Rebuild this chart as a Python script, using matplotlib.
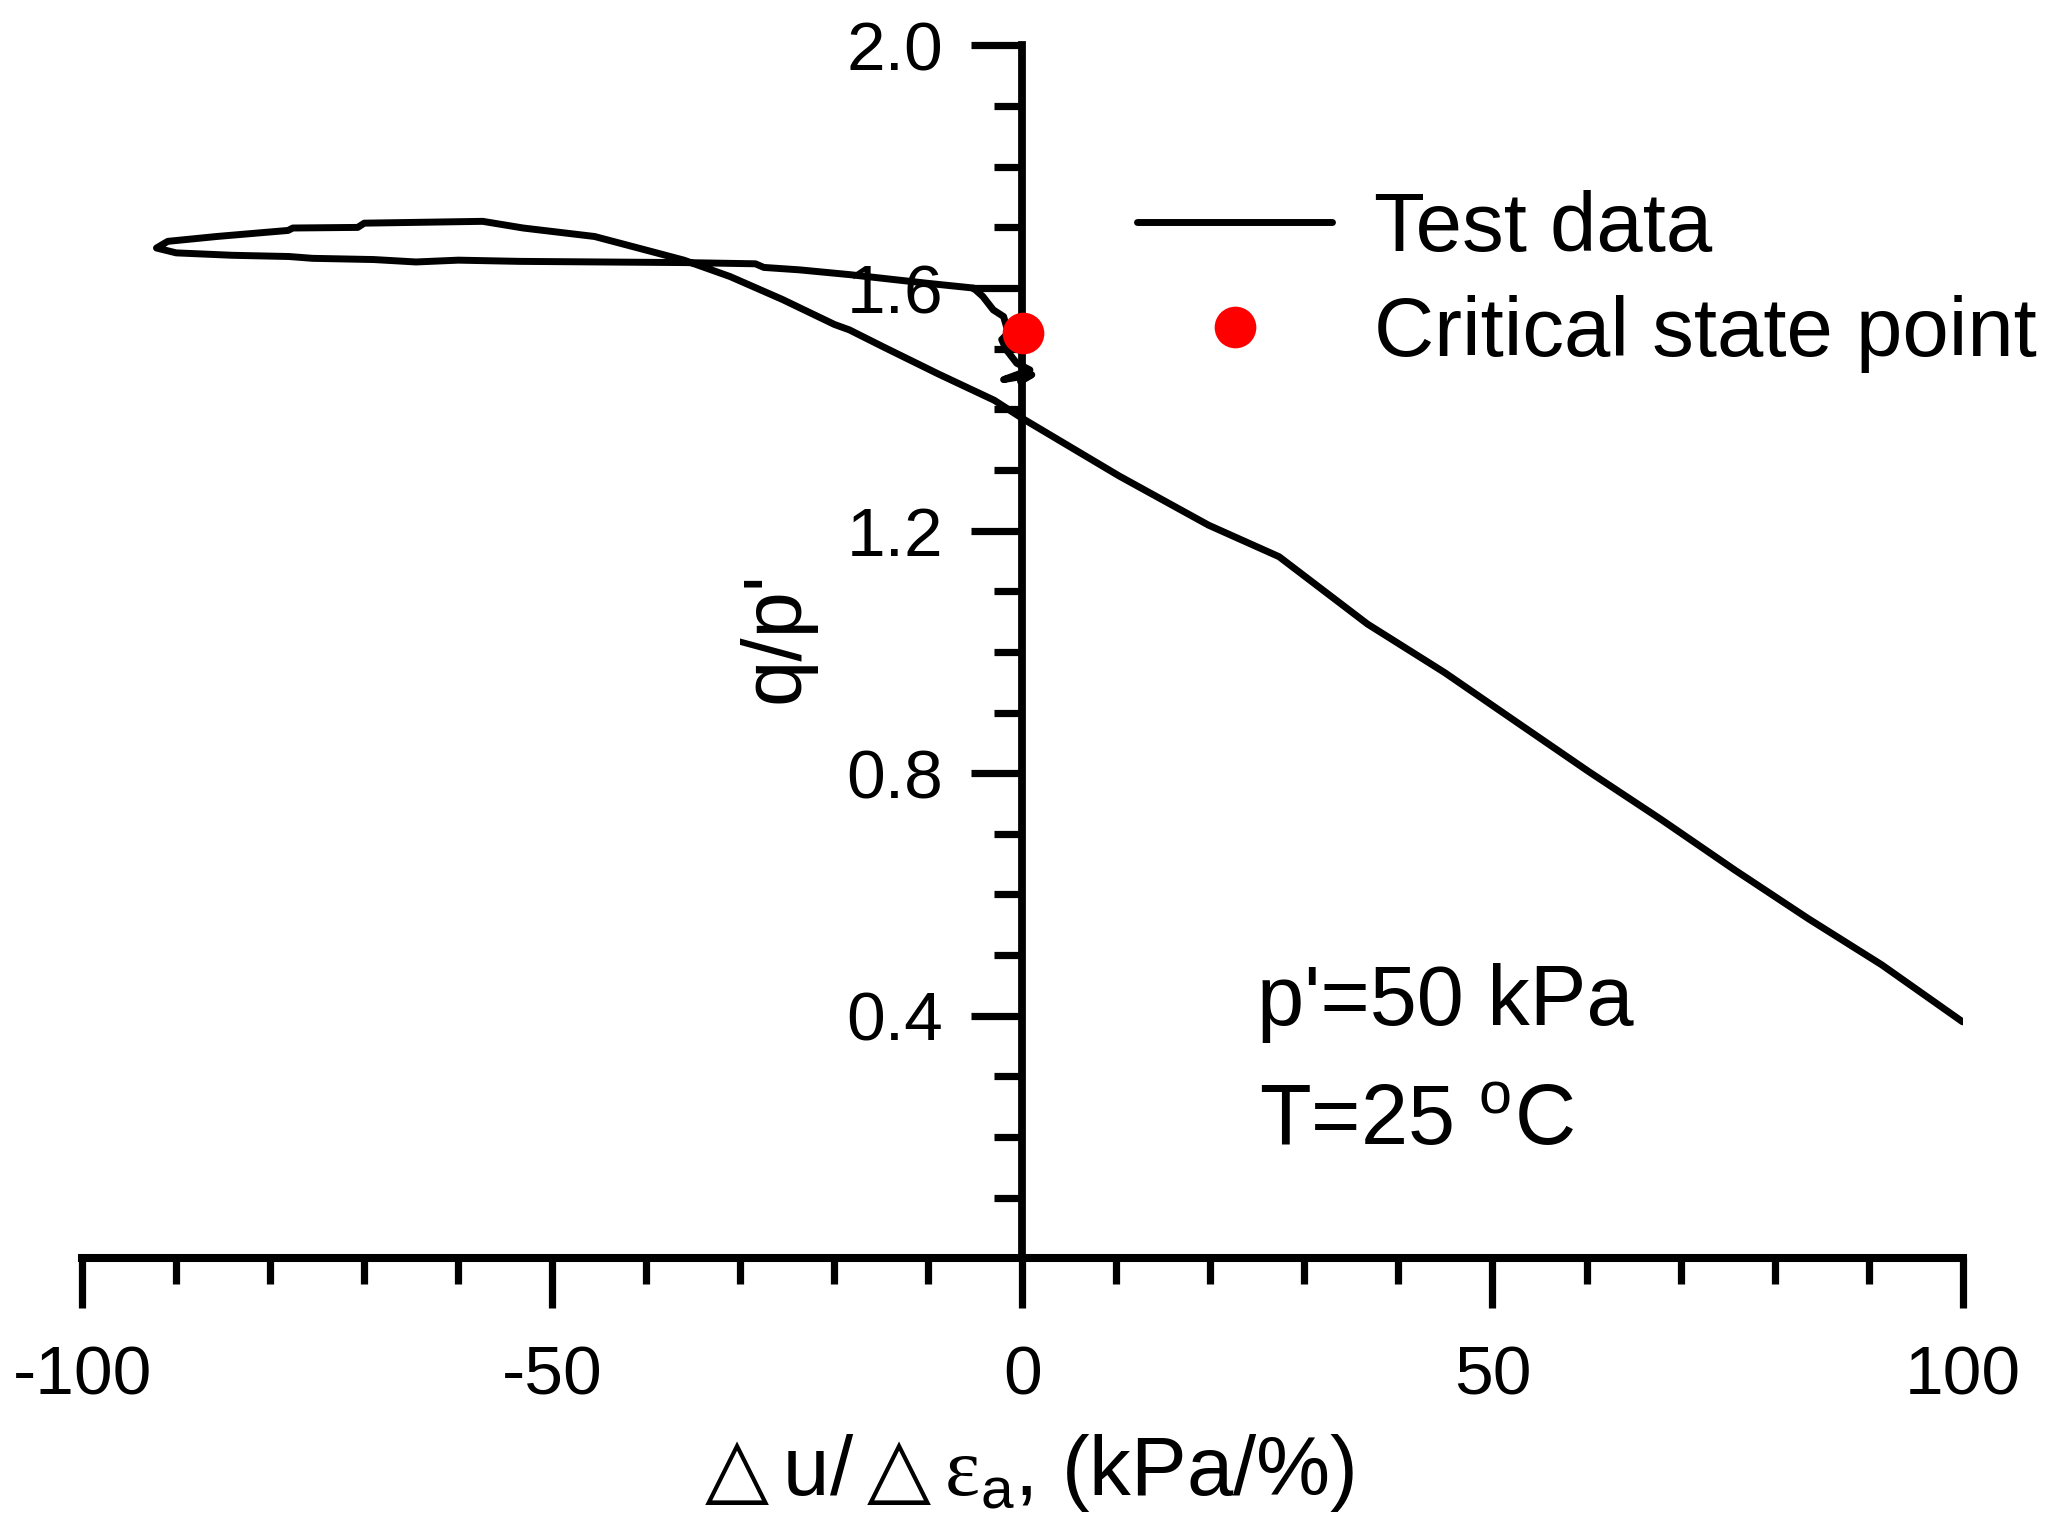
import matplotlib
matplotlib.use('Agg')
import matplotlib.pyplot as plt
from matplotlib.ticker import FixedLocator, FixedFormatter

# ---- data ----
# test path: starts at large positive du/dea, climbs left, loops, returns to ~0
x_data = [100.0, 91.4, 83.6, 75.8, 68.0, 60.2, 52.4, 44.9, 36.7, 27.3, 19.8, 10.3, 0.0,
          -3.0, -8.9, -14.8, -18.4, -20.0, -25.5, -31.1, -36.0, -39.4, -45.5,
          -53.1, -57.4, -70.0, -70.7, -77.6, -78.1, -85.7, -90.9, -92.1,
          -90.0, -84.0, -78.0, -75.5, -69.0, -64.5, -60.0, -53.5, -45.0, -36.0,
          -28.4, -27.5, -23.7, -18.3, -10.2, -5.2, -4.2, -3.1, -2.0, -1.5, -2.2,
          -1.7, -0.6, 0.8, -2.0, 1.0, -0.2]
y_data = [0.39, 0.484, 0.560, 0.640, 0.723, 0.803, 0.886, 0.966, 1.046, 1.157, 1.209, 1.290, 1.385,
          1.415, 1.458, 1.503, 1.531, 1.540, 1.581, 1.619, 1.646, 1.660, 1.685,
          1.699, 1.710, 1.707, 1.700, 1.699, 1.695, 1.685, 1.677, 1.666,
          1.658, 1.654, 1.652, 1.649, 1.647, 1.643, 1.646, 1.644, 1.643, 1.642,
          1.640, 1.634, 1.630, 1.622, 1.608, 1.600, 1.586, 1.564, 1.553, 1.526, 1.515,
          1.498, 1.476, 1.465, 1.449, 1.457, 1.446]
cs_x = [0.1]
cs_y = [1.526]

x_major = [-100, -50, 0, 50, 100]
x_major_labels = ['-100', '-50', '0', '50', '100']
x_minor = [-90, -80, -70, -60, -40, -30, -20, -10, 10, 20, 30, 40, 60, 70, 80, 90]
y_major = [0.4, 0.8, 1.2, 1.6, 2.0]
y_major_labels = ['0.4', '0.8', '1.2', '1.6', '2.0']
y_minor = [0.1, 0.2, 0.3, 0.5, 0.6, 0.7, 0.9, 1.0, 1.1, 1.3, 1.4, 1.5, 1.7, 1.8, 1.9]

series_labels = ['Test data', 'Critical state point']
note_lines = ["p'=50 kPa", r"T=25 $^{\mathrm{o}}$C"]
x_label = r"$\mathsf{\triangle}\mathrm{u/}\mathsf{\triangle}\mathtt{\varepsilon}_{\mathrm{a}}$, (kPa/%)"
y_label = "q/p'"

# ---- style ----
plt.rcParams['font.family'] = ['Liberation Sans', 'DejaVu Sans']
plt.rcParams['mathtext.fontset'] = 'custom'
plt.rcParams['mathtext.rm'] = 'Liberation Sans'
plt.rcParams['mathtext.it'] = 'Liberation Sans:italic'
plt.rcParams['mathtext.bf'] = 'Liberation Sans:bold'
plt.rcParams['mathtext.sf'] = 'DejaVu Sans'
plt.rcParams['mathtext.tt'] = 'Liberation Serif'
plt.rcParams['mathtext.fallback'] = 'stixsans'
plt.rcParams['axes.unicode_minus'] = False

fig = plt.figure(figsize=(20.45, 15.26), dpi=100)
ax = fig.add_axes([0.0402, 0.1754, 0.9195, 0.7948])

ax.plot(x_data, y_data, color='black', lw=5, label=series_labels[0],
        solid_joinstyle='round', solid_capstyle='round', zorder=2)
ax.plot(cs_x, cs_y, 'o', color='red', ms=30, mew=0, label=series_labels[1],
        zorder=4, clip_on=False)

ax.set_xlim(-100, 100)
ax.set_ylim(0, 2.0)

ax.spines['top'].set_visible(False)
ax.spines['right'].set_visible(False)
ax.spines['left'].set_position(('data', 0))
ax.spines['left'].set_linewidth(5.6)
ax.spines['bottom'].set_linewidth(5.8)

ax.xaxis.set_major_locator(FixedLocator(x_major))
ax.xaxis.set_major_formatter(FixedFormatter(x_major_labels))
ax.xaxis.set_minor_locator(FixedLocator(x_minor))
ax.yaxis.set_major_locator(FixedLocator(y_major))
ax.yaxis.set_major_formatter(FixedFormatter(y_major_labels))
ax.yaxis.set_minor_locator(FixedLocator(y_minor))

ax.tick_params(axis='x', which='major', direction='out', length=36, width=5.2,
               pad=26, labelsize=50)
ax.tick_params(axis='x', which='minor', direction='out', length=19, width=5.2)
ax.tick_params(axis='y', which='major', direction='out', length=37, width=5.2,
               pad=20, labelsize=50)
ax.tick_params(axis='y', which='minor', direction='out', length=20, width=5.2)

ax.set_xlabel(x_label, fontsize=60)
ax.xaxis.set_label_coords(0.5, -0.195)
ax.xaxis.label.set_va('baseline')
ax.set_ylabel(y_label, fontsize=60)
ax.yaxis.set_label_coords(0.39, 0.512)

ax.legend(loc='upper left', bbox_to_anchor=(0.556, 0.8755),
          bbox_transform=fig.transFigure, frameon=False, fontsize=60,
          handlelength=2.34, handletextpad=0.5, labelspacing=0.33,
          borderpad=0, borderaxespad=0, numpoints=1)

ax.text(0.6147, 0.3283, note_lines[0], transform=fig.transFigure, fontsize=61,
        va='baseline', ha='left')
ax.text(0.6157, 0.2497, note_lines[1], transform=fig.transFigure, fontsize=61,
        va='baseline', ha='left')

fig.savefig('out.png', dpi=100)
